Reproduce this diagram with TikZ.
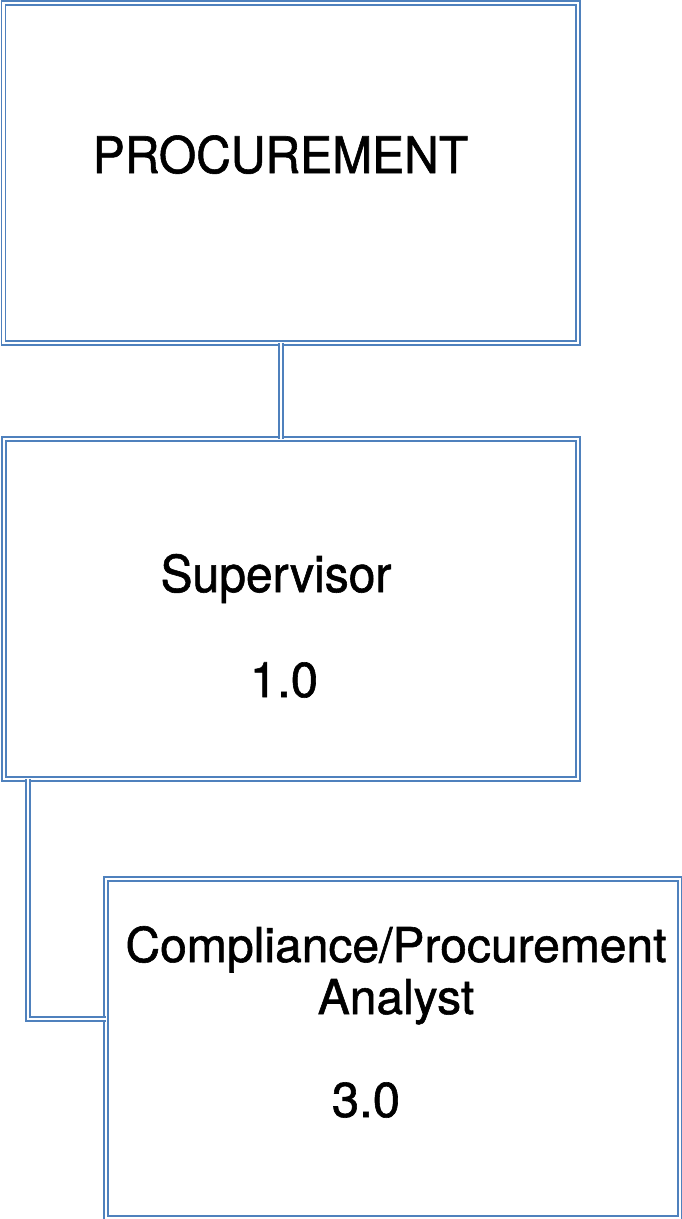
\documentclass[tikz,border=0pt]{standalone}
\usepackage{fontspec}
\setmainfont{TeX Gyre Heros}[FakeBold=1.2]
\definecolor{blu}{RGB}{79,129,189}
\begin{document}
\begin{tikzpicture}[x=1pt,y=-1pt,
  dbl/.style={draw=blu, double=white, double distance=2.4pt, line width=1.6pt},
  boxnode/.style={dbl, rectangle, inner sep=0pt, outer sep=0pt},
  lbl/.style={anchor=base, inner sep=0pt, font=\fontsize{49}{50}\selectfont}]
\useasboundingbox (0,0) rectangle (682,1219);
% boxes
\node[boxnode, minimum width=574.5pt, minimum height=340pt] (box1) at (290.75,173) {};
\node[boxnode, minimum width=574.3pt, minimum height=340pt] (box2) at (290.85,609) {};
\node[boxnode, minimum width=574pt, minimum height=339pt] (box3) at (393,1048.5) {};
% connectors
\coordinate (k1) at (281,0);
\coordinate (k2) at (28,1019);
\draw[dbl] (box1.south -| k1) -- (box2.north -| k1);
\draw[dbl] (box2.south -| k2) |- (box3.west |- k2);
% labels
\node[lbl, font=\fontsize{48}{50}\selectfont] (t1) at (280.5,173) {\scalebox{1}[1.05]{PROCUREMENT}};
\node[lbl, font=\fontsize{48}{50}\selectfont] (t2) at (276,592) {\scalebox{1}[1.06]{Supervisor}};
\node[lbl] (t3) at (284,697) {1.0};
\node[lbl, font=\fontsize{48}{50}\selectfont] (t4) at (396,962) {Compliance/Procurement};
\node[lbl, font=\fontsize{48}{50}\selectfont] (t5) at (396,1014) {Analyst};
\node[lbl] (t6) at (366,1117) {3.0};
\end{tikzpicture}
\end{document}
